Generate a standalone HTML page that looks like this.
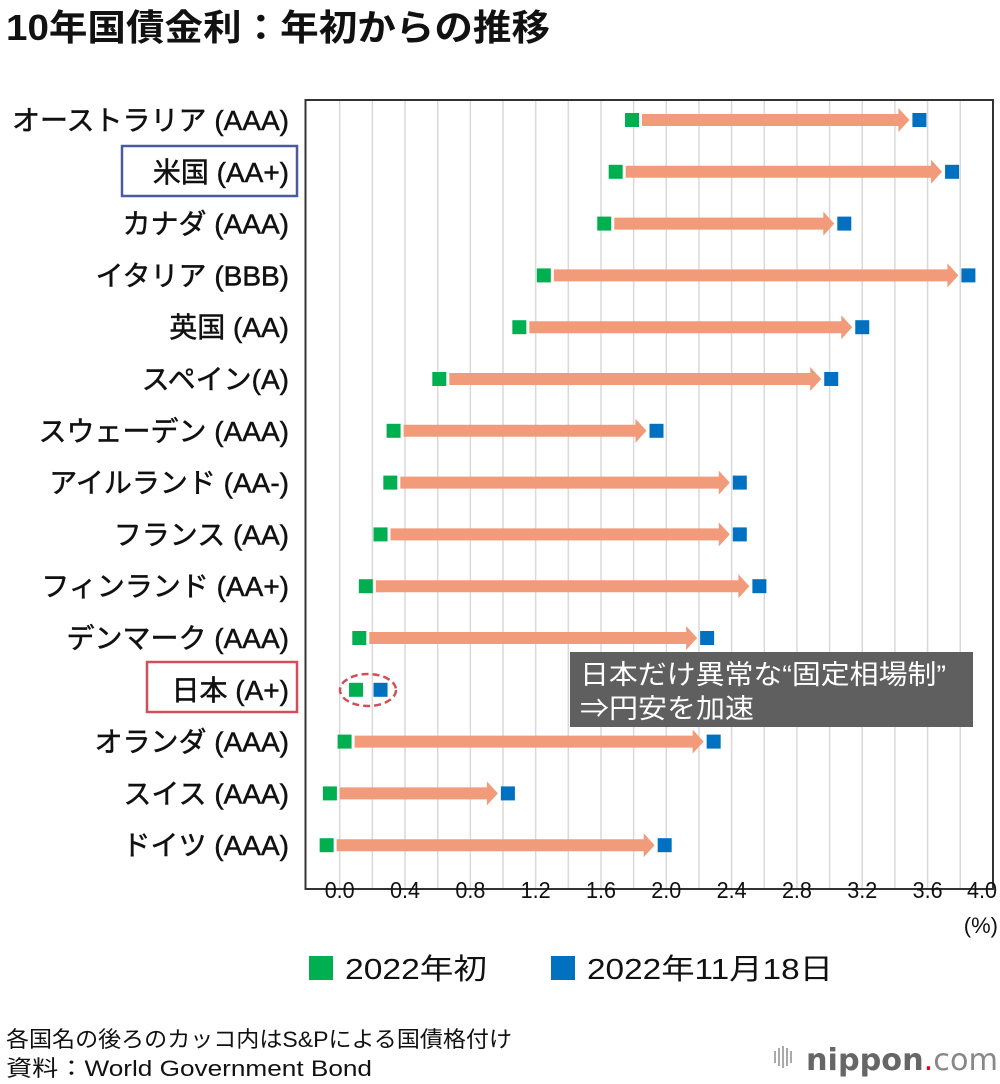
<!DOCTYPE html>
<html><head><meta charset="utf-8"><style>
html,body{margin:0;padding:0;background:#fff;}
svg{display:block;font-family:"Liberation Sans","Noto Sans CJK JP",sans-serif;}
</style></head><body>
<svg id="chart" width="1000" height="1084" viewBox="0 0 1000 1084">
<text x="6" y="40" font-size="36" font-weight="bold" fill="#111" textLength="544" lengthAdjust="spacingAndGlyphs">10年国債金利：年初からの推移</text>
<g id="grid"></g>
<rect x="305.5" y="100" width="687.5" height="789" fill="none" stroke="#333" stroke-width="2"/>
<g id="marks"></g>
<g id="labels"></g>
<g id="xticks"></g>
<text x="998" y="933" font-size="22" text-anchor="end" fill="#111">(%)</text>
<rect x="122" y="146" width="175" height="50" fill="none" stroke="#4a5aa0" stroke-width="2.5"/>
<rect x="147" y="662" width="150" height="50" fill="none" stroke="#d0505a" stroke-width="2.5"/>
<ellipse cx="368" cy="690" rx="28" ry="16" fill="none" stroke="#d0505a" stroke-width="2.5" stroke-dasharray="7,4"/>
<rect x="570" y="652" width="403" height="75" fill="#5f5f5f"/>
<text x="580" y="684" font-size="27" fill="#fff" textLength="366" lengthAdjust="spacingAndGlyphs">日本だけ異常な“固定相場制”</text>
<text x="580" y="718" font-size="27" fill="#fff" textLength="174" lengthAdjust="spacingAndGlyphs">⇒円安を加速</text>
<g>
<rect x="309" y="956" width="24" height="24" fill="#00b050"/>
<text x="345" y="979" font-size="29" fill="#111" textLength="142" lengthAdjust="spacingAndGlyphs">2022年初</text>
<rect x="551" y="956" width="24" height="24" fill="#0070c0"/>
<text x="587" y="979" font-size="29" fill="#111" textLength="246" lengthAdjust="spacingAndGlyphs">2022年11月18日</text>
</g>
<text x="6" y="1047" font-size="22" fill="#111" textLength="506" lengthAdjust="spacingAndGlyphs">各国名の後ろのカッコ内はS&amp;Pによる国債格付け</text>
<text x="6" y="1076" font-size="22" fill="#111" textLength="366" lengthAdjust="spacingAndGlyphs">資料：World Government Bond</text>
<g>
<g fill="#aaa"><rect x="774" y="1051" width="2" height="12"/><rect x="778" y="1048" width="2" height="18"/><rect x="782" y="1046" width="2" height="22"/><rect x="786" y="1048" width="2" height="18"/><rect x="790" y="1051" width="2" height="12"/></g>
<text x="806" y="1070" font-size="30" fill="#666" textLength="192" lengthAdjust="spacingAndGlyphs" font-family="'DejaVu Sans',sans-serif"><tspan font-weight="bold">nippon</tspan><tspan fill="#e60012">.</tspan><tspan fill="#888">com</tspan></text>
</g>
</svg>
<script>
const countries = ["オーストラリア (AAA)","米国 (AA+)","カナダ (AAA)","イタリア (BBB)","英国 (AA)","スペイン(A)","スウェーデン (AAA)","アイルランド (AA-)","フランス (AA)","フィンランド (AA+)","デンマーク (AAA)","日本 (A+)","オランダ (AAA)","スイス (AAA)","ドイツ (AAA)"];
const startValues = [1.79,1.69,1.62,1.25,1.10,0.61,0.33,0.31,0.25,0.16,0.12,0.10,0.03,-0.06,-0.08];
const latestValues = [3.55,3.75,3.09,3.85,3.20,3.01,1.94,2.45,2.45,2.57,2.25,0.25,2.29,1.03,1.99];
const tickValues = [0,0.4,0.8,1.2,1.6,2.0,2.4,2.8,3.2,3.6,4.0];
const tickLabels = ["0.0","0.4","0.8","1.2","1.6","2.0","2.4","2.8","3.2","3.6","4.0"];
const gridValues = [0,0.2,0.4,0.6,0.8,1.0,1.2,1.4,1.6,1.8,2.0,2.2,2.4,2.6,2.8,3.0,3.2,3.4,3.6,3.8];
const arrowCountries = [0,1,2,3,4,5,6,7,8,9,10,12,13,14];

const NS="http://www.w3.org/2000/svg";
function xs(v){return 339.7+v*163.3;}
function ys(i){return 120+i*51.8;}
function mk(tag,attrs,parent){const e=document.createElementNS(NS,tag);for(const k in attrs)e.setAttribute(k,attrs[k]);parent.appendChild(e);return e;}
const grid=document.getElementById('grid'),marks=document.getElementById('marks'),labels=document.getElementById('labels'),xt=document.getElementById('xticks');
gridValues.forEach(v=>{
  const l=mk('line',{x1:xs(v),x2:xs(v),y1:100,y2:889,stroke:'#d9d9d9','stroke-width':1.5},grid);
  
  
});
tickValues.forEach((v,i)=>{
  const cx=Math.min(xs(v),982);
  const t=mk('text',{x:cx-15,y:898,'font-size':23,fill:'#111',textLength:30,lengthAdjust:'spacingAndGlyphs'},xt);
  t.textContent=tickLabels[i];
  
  
});
countries.forEach((c,i)=>{
  const y=ys(i);
  const t=mk('text',{x:289,y:y+10,'font-size':28,'text-anchor':'end',fill:'#111',stroke:'#111','stroke-width':0.5},labels);
  t.textContent=c;
  
  
  const x0=xs(startValues[i]),x1=xs(latestValues[i]);
  if(arrowCountries.indexOf(i)>=0){
    const s=x0+10,e=x1-10,h=6,hh=12,hl=11;
    const p=mk('polygon',{points:`${s},${y-h} ${e-hl},${y-h} ${e-hl},${y-hh} ${e},${y} ${e-hl},${y+hh} ${e-hl},${y+h} ${s},${y+h}`,fill:'#f29b7a'},marks);
    
    
  }
  const g=mk('rect',{x:x0-7,y:y-7,width:14,height:14,fill:'#00b050'},marks);
  
  
  const b=mk('rect',{x:x1-7,y:y-7,width:14,height:14,fill:'#0070c0'},marks);
  
  
});
</script>
</body></html>
